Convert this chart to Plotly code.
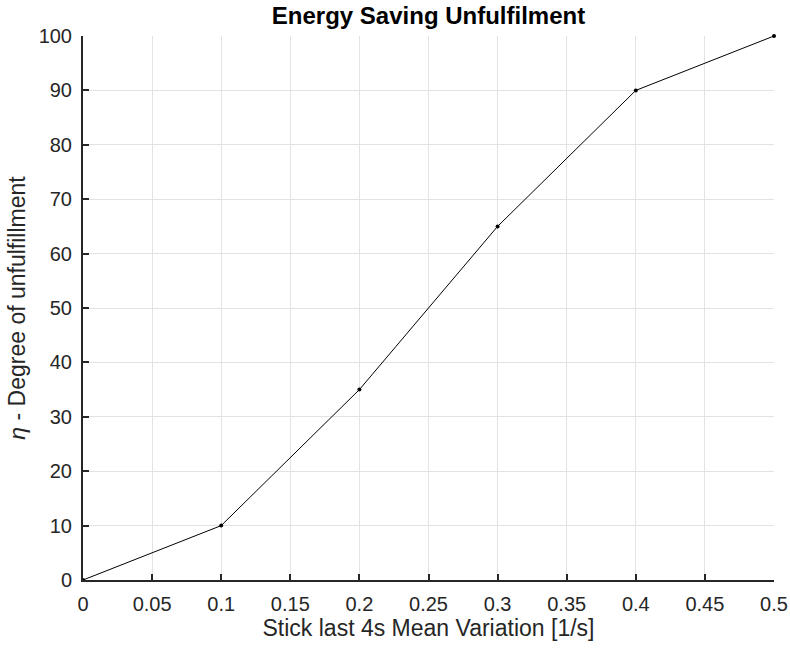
import plotly.graph_objects as go

x_vals = [0, 0.1, 0.2, 0.3, 0.4, 0.5]
y_vals = [0, 10, 35, 65, 90, 100]
x_ticks = [0, 0.05, 0.1, 0.15, 0.2, 0.25, 0.3, 0.35, 0.4, 0.45, 0.5]
x_ticklabels = ["0", "0.05", "0.1", "0.15", "0.2", "0.25", "0.3", "0.35", "0.4", "0.45", "0.5"]
y_ticks = list(range(0, 101, 10))

FONT = "Liberation Sans, Arial, Helvetica, sans-serif"

fig = go.Figure(go.Scatter(
    x=x_vals, y=y_vals, mode="lines+markers",
    line=dict(color="black", width=1),
    marker=dict(color="black", size=4),
    cliponaxis=False,
))

axis_common = dict(
    showline=True, linecolor="#262626", linewidth=2,
    ticks="inside", ticklen=6, tickwidth=2, tickcolor="#262626",
    showgrid=True, gridcolor="#e3e3e3", gridwidth=1,
    zeroline=False, automargin=False,
    tickfont=dict(family=FONT, size=20, color="#262626"),
    mirror=False,
)

fig.update_layout(
    width=790, height=648,
    margin=dict(l=83, r=16, t=36, b=68),
    paper_bgcolor="white", plot_bgcolor="white",
    showlegend=False,
    title=dict(text="<b>Energy Saving Unfulfilment</b>", x=0.5, xanchor="center",
               xref="paper", yref="container", y=1 - 16 / 648, yanchor="middle",
               font=dict(family=FONT, size=24, color="black")),
    xaxis=dict(range=[0, 0.5], tickvals=x_ticks, ticktext=x_ticklabels,
               ticklabelstandoff=5,
               title=dict(text="Stick last 4s Mean Variation [1/s]", standoff=2,
                          font=dict(family=FONT, size=23, color="#262626")),
               **axis_common),
    yaxis=dict(range=[0, 100], tickvals=y_ticks, ticklabelstandoff=5,
               title=dict(text="<i>η</i> - Degree of unfulfillment", standoff=7,
                          font=dict(family=FONT, size=23, color="#262626")),
               **axis_common),
)

fig.write_html(
    "out.html",
    config={"displayModeBar": False},
    post_script="document.body.style.margin='0';document.body.style.overflow='hidden';",
)
